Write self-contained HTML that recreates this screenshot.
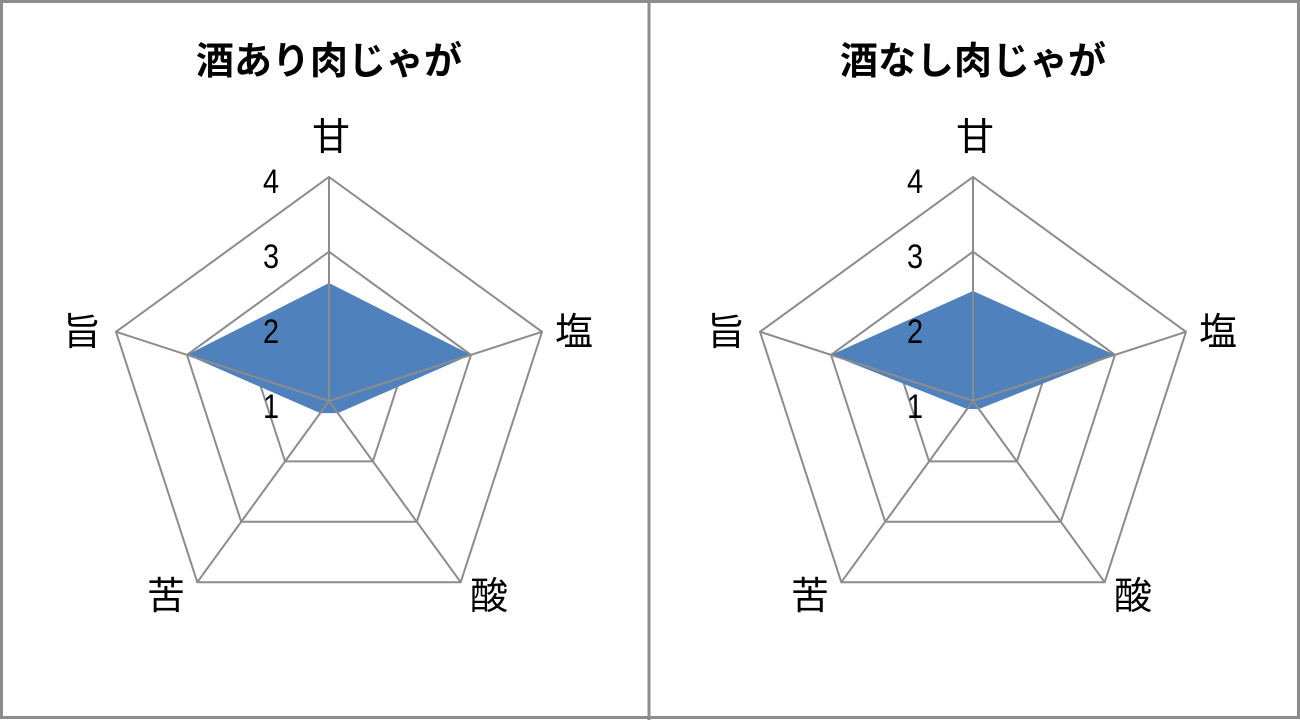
<!DOCTYPE html>
<html><head><meta charset="utf-8"><style>
html,body{margin:0;padding:0;background:#fff;width:1300px;height:720px;overflow:hidden}
text{font-family:"Liberation Sans","Noto Sans CJK JP",sans-serif;fill:#000}
</style></head><body>
<svg width="1300" height="720" xmlns="http://www.w3.org/2000/svg">
<rect x="1.5" y="1.5" width="1297" height="716" fill="#fff" stroke="#8c8c8c" stroke-width="3"/>
<line x1="649" y1="0" x2="649" y2="720" stroke="#8c8c8c" stroke-width="3"/>
<defs>
<g id="rings" fill="none" stroke="#8c8c8c" stroke-width="2">
<polygon points="329,177 542,331.8 460.7,582.2 197.3,582.2 116,331.8"/>
<polygon points="329,251.7 471,354.9 416.8,521.8 241.2,521.8 187,354.9"/>
<polygon points="329,326.3 400,378 372.9,461.4 285.1,461.4 258,378"/>
</g>
<g id="spokes" stroke="#8c8c8c" stroke-width="2">
<line x1="329" y1="401" x2="329" y2="177"/>
<line x1="329" y1="401" x2="542" y2="331.8"/>
<line x1="329" y1="401" x2="460.7" y2="582.2"/>
<line x1="329" y1="401" x2="197.3" y2="582.2"/>
<line x1="329" y1="401" x2="116" y2="331.8"/>
</g>
<g id="labels" font-size="38">
<text x="331" y="150" text-anchor="middle">甘</text>
<text x="574" y="345" text-anchor="middle">塩</text>
<text x="82" y="345" text-anchor="middle">旨</text>
<text x="489" y="609" text-anchor="middle">酸</text>
<text x="166" y="609" text-anchor="middle">苦</text>
<g font-size="34" text-anchor="middle">
<text x="271" y="193" transform="translate(271,0) scale(0.85,1) translate(-271,0)">4</text>
<text x="271" y="268" transform="translate(271,0) scale(0.85,1) translate(-271,0)">3</text>
<text x="271" y="343" transform="translate(271,0) scale(0.85,1) translate(-271,0)">2</text>
<text x="271" y="418" transform="translate(271,0) scale(0.85,1) translate(-271,0)">1</text>
</g>
</g>
</defs>
<!-- left -->
<use href="#rings"/>
<polygon points="329,283 471,354.9 337.8,413.1 320.2,413.1 187,354.9" fill="#4f81bd"/>
<use href="#spokes"/>
<use href="#labels"/>
<text x="329" y="74" font-size="38" font-weight="bold" text-anchor="middle">酒あり肉じゃが</text>
<!-- right -->
<g transform="translate(644,0)">
<use href="#rings"/>
<polygon points="329,291 471,354.9 335,409 323,409 187,354.9" fill="#4f81bd"/>
<use href="#spokes"/>
<use href="#labels"/>
<text x="329" y="74" font-size="38" font-weight="bold" text-anchor="middle">酒なし肉じゃが</text>
</g>
</svg>
</body></html>
